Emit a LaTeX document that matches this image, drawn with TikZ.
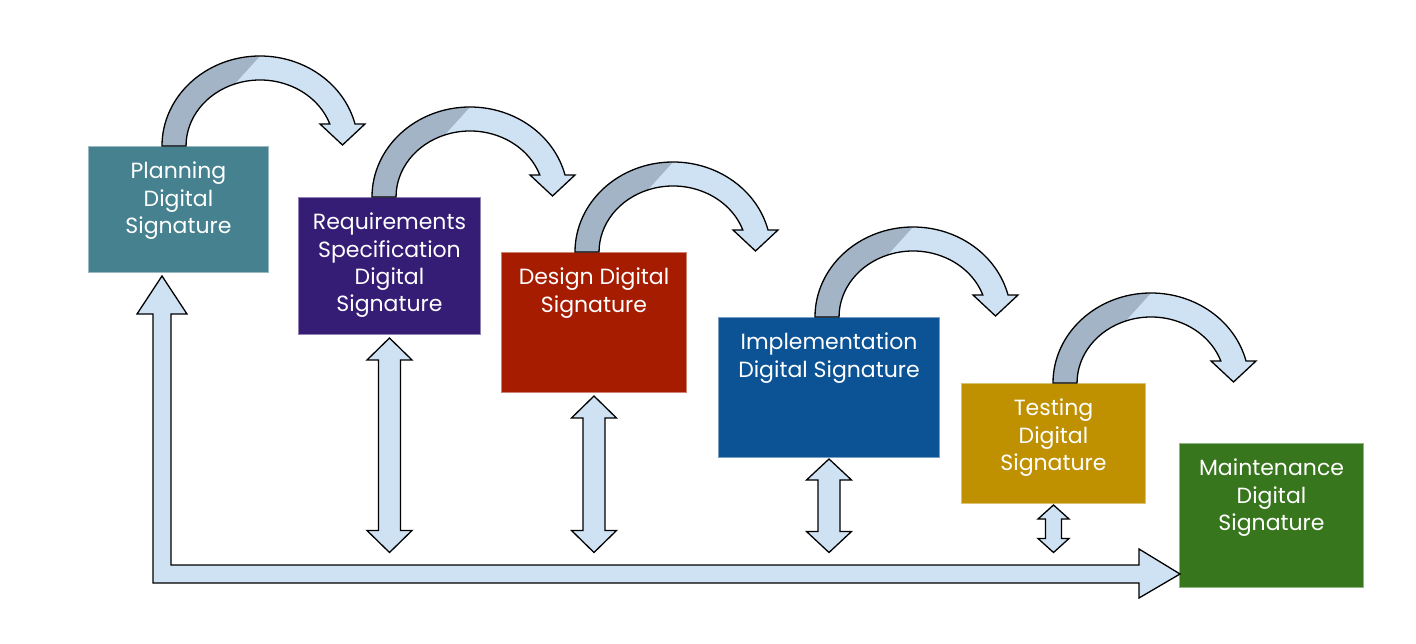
\documentclass[tikz,border=0pt]{standalone}
\usepackage{fontspec}
\setmainfont{Poppins}
\usetikzlibrary{calc}
\usetikzlibrary{positioning}

\definecolor{planteal}{HTML}{45818E}
\definecolor{reqpurple}{HTML}{351C75}
\definecolor{designred}{HTML}{A61C00}
\definecolor{implblue}{HTML}{0B5394}
\definecolor{testgold}{HTML}{BF9000}
\definecolor{maintgreen}{HTML}{38761D}
\definecolor{hoplight}{HTML}{CFE2F3}
\definecolor{hopdark}{HTML}{A2B4C6}

\tikzset{
  stage/.style={fill=#1, draw=#1!55!white, line width=1pt, anchor=north west, inner sep=0pt},
  stagetext/.style={text=white, align=center, inner sep=0pt, font=\fontsize{22}{27.3}\selectfont},
  blockarrow/.style={draw=black, fill=hoplight, line width=1.3pt, line join=miter},
}

% curved hop from one stage to the next, #1 = stage, #2 = offset from its left edge
\newcommand{\hoppath}{(0,0) arc[start angle=180, end angle=14.1, x radius=98, y radius=90]
  -- (203,22) -- (180.5,1) -- (158,22) -- (167.8,22)
  arc[start angle=19.47, end angle=180, x radius=74, y radius=66] -- cycle}
\newcommand{\hoparrow}[2]{%
  \begin{scope}[shift={($(#1.north west)+(#2,0)$)}]
    \fill[hoplight] \hoppath;
    \fill[hopdark] (0,0) arc[start angle=180, end angle=90, x radius=98, y radius=90]
      -- ({98+74*cos(110)},{66*sin(110)}) arc[start angle=110, end angle=180, x radius=74, y radius=66] -- cycle;
    \draw[black, line width=1.3pt] \hoppath;
  \end{scope}}

% up and down arrow, #1 top tip, #2 bottom tip, #3 shaft half width, #4 head half width, #5 head length
\newcommand{\twoway}[5]{%
  \draw[blockarrow] let \p1=#1, \p2=#2 in
    (\x1,\y1) -- (\x1+#4,\y1-#5) -- (\x1+#3,\y1-#5) -- (\x1+#3,\y2+#5) -- (\x1+#4,\y2+#5)
    -- (\x1,\y2) -- (\x1-#4,\y2+#5) -- (\x1-#3,\y2+#5) -- (\x1-#3,\y1-#5) -- (\x1-#4,\y1-#5) -- cycle;}

\begin{document}
\begin{tikzpicture}[x=1pt, y=1pt]
\useasboundingbox (0,0) rectangle (1416,643);

% stages
\node[stage=planteal, minimum width=180pt, minimum height=126pt] (plan) at (88,497) {};
\node[stage=reqpurple, minimum width=182pt, minimum height=137pt] (req) at (298,446) {};
\node[stage=designred, minimum width=185pt, minimum height=140pt] (design) at (501,391) {};
\node[stage=implblue, minimum width=221pt, minimum height=140pt] (impl) at (718,326) {};
\node[stage=testgold, minimum width=184pt, minimum height=120pt] (test) at (961,260) {};
\node[stage=maintgreen, minimum width=184pt, minimum height=144pt] (maint) at (1179,200) {};

\node[stagetext, below=16pt of plan.north] (plan-t) {Planning\\Digital\\Signature};
\node[stagetext, below=16pt of req.north] (req-t) {Requirements\\Specification\\Digital\\Signature};
\node[stagetext, below=16pt of design.north] (design-t) {Design Digital\\Signature};
\node[stagetext, below=16pt of impl.north] (impl-t) {Implementation\\Digital Signature};
\node[stagetext, below=16pt of test.north] (test-t) {Testing\\Digital\\Signature};
\node[stagetext, below=16pt of maint.north] (maint-t) {Maintenance\\Digital\\Signature};

% hops
\hoparrow{plan}{74}
\hoparrow{req}{74}
\hoparrow{design}{74}
\hoparrow{impl}{97}
\hoparrow{test}{92}

% feedback loop
\coordinate (upTip) at ($(plan.south west)+(74,-3)$);
\coordinate (rightTip) at ($(maint.south west)+(1,14)$);
\coordinate (floor) at (0,90.5);
\draw[blockarrow] let \p1=(upTip), \p2=(rightTip) in
  (\x1-9,\y2-9) -- (\x2-41,\y2-9) -- (\x2-41,\y2-24) -- (\x2,\y2) -- (\x2-41,\y2+25)
  -- (\x2-41,\y2+9) -- (\x1+9,\y2+9) -- (\x1+9,\y1-38) -- (\x1+25,\y1-38) -- (\x1,\y1)
  -- (\x1-25,\y1-38) -- (\x1-9,\y1-38) -- cycle;

\twoway{($(req.south)+(0,-3)$)}{(req.south |- floor)}{11}{22.5}{22}
\twoway{($(design.south)+(0,-3)$)}{(design.south |- floor)}{11}{22.5}{22}
\twoway{($(impl.south)+(0,-1)$)}{(impl.south |- floor)}{11}{22.5}{21}
\twoway{($(test.south)+(0,-1)$)}{(test.south |- floor)}{8}{15.5}{14}
\end{tikzpicture}
\end{document}
